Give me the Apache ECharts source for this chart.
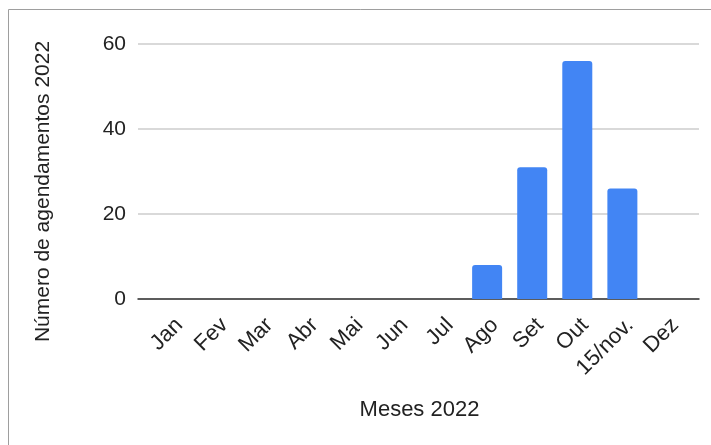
<!DOCTYPE html>
<html>
<head>
<meta charset="utf-8">
<script src="https://cdn.jsdelivr.net/npm/echarts@6/dist/echarts.min.js"></script>
<style>
html, body { margin: 0; padding: 0; background: #fff; }
#chart { width: 711px; height: 445px; }
</style>
</head>
<body>
<div id="chart"></div>
<script>
const months = ['Jan', 'Fev', 'Mar', 'Abr', 'Mai', 'Jun', 'Jul', 'Ago', 'Set', 'Out', '15/nov.', 'Dez']
const agendamentos = [0, 0, 0, 0, 0, 0, 0, 8, 31, 56, 26, 0]
const yTicks = [0, 20, 40, 60]

const font = 'Arial, "Liberation Sans", sans-serif'
const textColor = '#222'

const chart = echarts.init(document.getElementById('chart'))
const option = {
	animation: false,
	backgroundColor: '#fff',
	graphic: [
		{
			// outer frame, only top and left edges fall inside the picture
			type: 'rect',
			shape: { x: 8.5, y: 9.5, width: 800, height: 600 },
			style: { fill: 'none', stroke: '#9e9e9e', lineWidth: 1 },
			silent: true
		}
	],
	grid: [
		// gridlines + baseline span
		{ left: 138, right: 12, top: 44, bottom: 146 },
		// category span for the bars
		{ left: 149, right: 21, top: 44, bottom: 146 }
	],
	xAxis: [
		{
			gridIndex: 0,
			type: 'value',
			min: 0,
			max: 1,
			axisLine: { show: true, onZero: false, lineStyle: { color: '#333', width: 1.5 } },
			axisTick: { show: false },
			axisLabel: { show: false },
			splitLine: { show: false }
		},
		{
			gridIndex: 1,
			type: 'category',
			data: months,
			axisLine: { show: false },
			axisTick: { show: false },
			axisLabel: {
				rotate: 45,
				interval: 0,
				margin: 15,
				verticalAlign: 'top',
				fontSize: 22,
				fontFamily: font,
				color: textColor
			},
			name: 'Meses 2022',
			nameLocation: 'middle',
			nameGap: 100,
			nameTextStyle: { fontSize: 22, fontFamily: font, color: textColor }
		}
	],
	yAxis: [
		{
			gridIndex: 0,
			type: 'value',
			min: yTicks[0],
			max: yTicks[yTicks.length - 1],
			interval: 20,
			axisLine: { show: false },
			axisTick: { show: false },
			axisLabel: {
				margin: 12,
				fontSize: 21,
				fontFamily: font,
				color: textColor
			},
			splitLine: { lineStyle: { color: '#cccccc', width: 1.5 } },
			name: 'Número de agendamentos 2022',
			nameLocation: 'middle',
			nameRotate: 90,
			nameGap: 84,
			nameTextStyle: { fontSize: 21, fontFamily: font, color: textColor, padding: [0, 40, 0, 0] }
		},
		{
			gridIndex: 1,
			type: 'value',
			min: yTicks[0],
			max: yTicks[yTicks.length - 1],
			show: false
		}
	],
	series: [
		{
			name: 'Número de agendamentos 2022',
			type: 'bar',
			xAxisIndex: 1,
			yAxisIndex: 1,
			data: agendamentos,
			barWidth: 30,
			itemStyle: {
				color: '#4285F4',
				borderRadius: [3, 3, 0, 0]
			}
		}
	]
}
chart.setOption(option)
</script>
</body>
</html>
